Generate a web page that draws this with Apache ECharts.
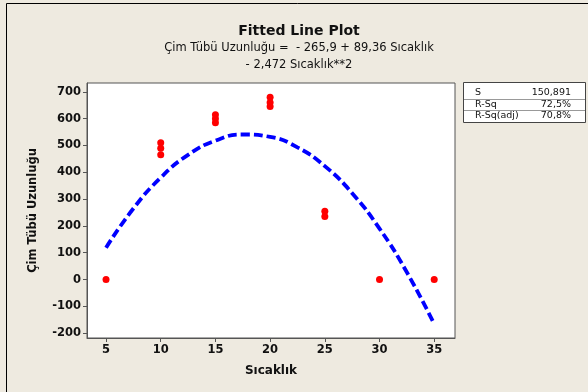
<!DOCTYPE html>
<html>
<head>
<meta charset="utf-8">
<script src="https://cdn.jsdelivr.net/npm/echarts@6/dist/echarts.min.js"></script>
<style>
  html, body { margin: 0; padding: 0; background: #eeeae0; }
  #chart { width: 588px; height: 392px; }
</style>
</head>
<body>
<div id="chart"></div>
<script>
// observed points
const tempX = [5, 10, 10, 10, 15, 15, 15, 20, 20, 20, 25, 25, 30, 35];
const lengthY = [0, 510, 490, 465, 615, 600, 585, 680, 660, 645, 255, 235, 0, 0];

// fitted curve
const fitX = [5, 7.5, 10, 12.5, 15, 17.5, 20, 22.5, 25, 27.5, 30, 32.5, 35];
const fitY = [119, 265, 380, 465, 518, 541, 532, 493, 423, 322, 190, 27, -166];

const xTicks = [5, 10, 15, 20, 25, 30, 35];
const yTicks = [-200, -100, 0, 100, 200, 300, 400, 500, 600, 700];

const statLabels = ['S', 'R-Sq', 'R-Sq(adj)'];
const statValues = ['150,891', '72,5%', '70,8%'];

const FONT = 'DejaVu Sans';

const chart = echarts.init(document.getElementById('chart'));

const statTexts = [];
statLabels.forEach((lab, i) => {
  statTexts.push({
    type: 'text', left: 475, top: 88 + i * 11.5,
    style: { text: lab, font: '9.5px ' + FONT, fill: '#111' },
  });
  statTexts.push({
    type: 'text', right: 17, top: 88 + i * 11.5,
    style: { text: statValues[i], font: '9.5px ' + FONT, fill: '#111' },
  });
});

const option = {
  backgroundColor: '#eeeae0',
  animation: false,
  grid: { left: 87, right: 133, top: 83, bottom: 54, show: true, backgroundColor: '#fff', borderColor: '#555', borderWidth: 1 },
  xAxis: {
    type: 'value',
    min: 3.26,
    max: 36.9,
    name: 'Sıcaklık',
    nameLocation: 'middle',
    nameGap: 27,
    nameTextStyle: { fontFamily: FONT, fontWeight: 'bold', fontSize: 12, color: '#111' },
    axisLine: { show: true, onZero: false, lineStyle: { color: '#555' } },
    axisTick: { show: true, length: 4, customValues: xTicks, lineStyle: { color: '#555' } },
    axisLabel: { customValues: xTicks, fontFamily: FONT, fontWeight: 'bold', fontSize: 11.5, color: '#111', margin: 6 },
    splitLine: { show: false },
  },
  yAxis: {
    type: 'value',
    min: -218,
    max: 733,
    name: 'Çim Tübü Uzunluğu',
    nameLocation: 'middle',
    nameGap: 48,
    nameTextStyle: { fontFamily: FONT, fontWeight: 'bold', fontSize: 11.5, color: '#111' },
    axisLine: { show: true, onZero: false, lineStyle: { color: '#555' } },
    axisTick: { show: true, length: 4, customValues: yTicks, lineStyle: { color: '#555' } },
    axisLabel: { customValues: yTicks, fontFamily: FONT, fontWeight: 'bold', fontSize: 11.5, color: '#111', margin: 6 },
    splitLine: { show: false },
  },
  series: [
    {
      type: 'line',
      data: fitX.map((x, i) => [x, fitY[i]]),
      smooth: true,
      symbol: 'none',
      lineStyle: { color: '#0000ff', width: 3.8, type: [9, 4] },
      z: 2,
    },
    {
      type: 'scatter',
      data: tempX.map((x, i) => [x, lengthY[i]]),
      symbol: 'circle',
      symbolSize: 7,
      itemStyle: { color: '#ff0000', opacity: 1 },
      z: 3,
    },
  ],
  graphic: [
    {
      type: 'rect', shape: { x: 6.5, y: 3.5, width: 620, height: 420 },
      style: { fill: 'none', stroke: '#000', lineWidth: 1 }, z: -1,
    },
    {
      type: 'text', x: 299, y: 24,
      style: { text: 'Fitted Line Plot', font: 'bold 14px ' + FONT, fill: '#111', textAlign: 'center' },
    },
    {
      type: 'text', x: 299, y: 42,
      style: { text: 'Çim Tübü Uzunluğu =  - 265,9 + 89,36 Sıcaklık', font: '11.5px ' + FONT, fill: '#111', textAlign: 'center' },
    },
    {
      type: 'text', x: 299, y: 59,
      style: { text: '- 2,472 Sıcaklık**2', font: '11.5px ' + FONT, fill: '#111', textAlign: 'center' },
    },
    {
      type: 'rect', shape: { x: 463.5, y: 82.5, width: 122, height: 40 },
      style: { fill: '#fff', stroke: '#444', lineWidth: 1 },
    },
    {
      type: 'line', shape: { x1: 464, y1: 99.5, x2: 585, y2: 99.5 },
      style: { stroke: '#999', lineWidth: 1 },
    },
    {
      type: 'line', shape: { x1: 464, y1: 110.5, x2: 585, y2: 110.5 },
      style: { stroke: '#999', lineWidth: 1 },
    },
    ...statTexts,
  ],
};

chart.setOption(option);
</script>
</body>
</html>
